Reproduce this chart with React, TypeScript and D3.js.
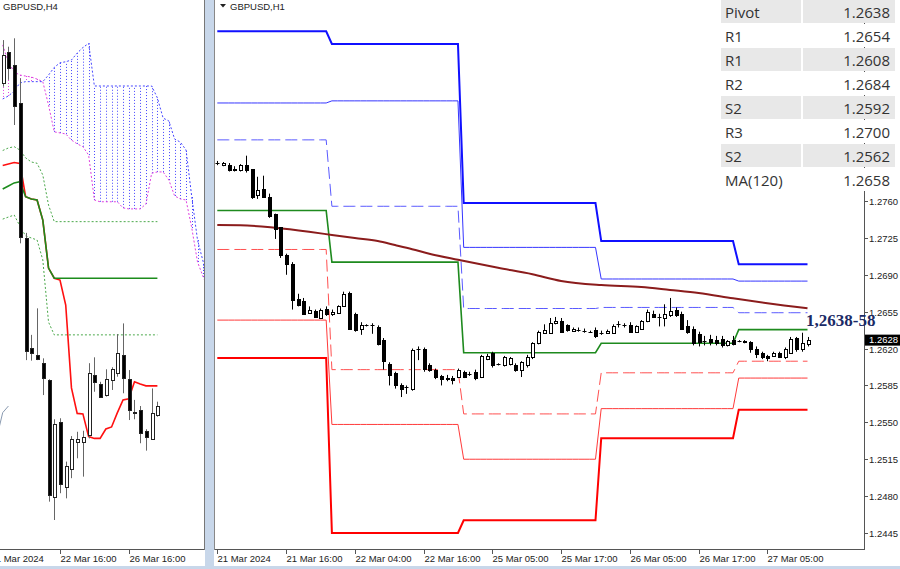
import React from "react";
import * as d3 from "d3";

// ================= RIGHT PANEL (GBPUSD, H1) =================
// [open, high, low, close]
const h1Candles: number[][] = [
  [1.2796, 1.2798, 1.2794, 1.2796], [1.2794, 1.2797, 1.2793, 1.2796], [1.2794, 1.2796, 1.2788, 1.2789],
  [1.279, 1.2793, 1.2788, 1.2789], [1.2789, 1.2795, 1.2788, 1.2794], [1.2794, 1.2803, 1.2787, 1.2789],
  [1.279, 1.279, 1.2762, 1.2764], [1.2766, 1.2783, 1.2762, 1.277], [1.2771, 1.2784, 1.2763, 1.2764],
  [1.2764, 1.2767, 1.2744, 1.2746], [1.2748, 1.2748, 1.2724, 1.2733], [1.2735, 1.2735, 1.2706, 1.2709],
  [1.2709, 1.271, 1.269, 1.27], [1.27, 1.2702, 1.2657, 1.2666], [1.2667, 1.2672, 1.266, 1.2661],
  [1.2665, 1.2668, 1.2652, 1.2653], [1.2654, 1.266, 1.2653, 1.2657], [1.2656, 1.2657, 1.2649, 1.265],
  [1.2649, 1.2658, 1.2648, 1.2657], [1.2658, 1.266, 1.2651, 1.2653], [1.2653, 1.2657, 1.2651, 1.2655],
  [1.2654, 1.2661, 1.2653, 1.266], [1.266, 1.2674, 1.266, 1.2672], [1.2673, 1.2674, 1.2638, 1.2639],
  [1.2653, 1.2654, 1.2636, 1.2638], [1.2639, 1.2645, 1.2633, 1.2642], [1.2642, 1.2643, 1.2641, 1.2642],
  [1.2642, 1.2644, 1.2634, 1.2642], [1.264, 1.2642, 1.2623, 1.2624], [1.2628, 1.263, 1.26, 1.2608],
  [1.2605, 1.2607, 1.2585, 1.2595], [1.2597, 1.2598, 1.2582, 1.2585], [1.2585, 1.2587, 1.2574, 1.2582],
  [1.2584, 1.2585, 1.2577, 1.2584], [1.2582, 1.262, 1.258, 1.2619], [1.262, 1.2622, 1.2609, 1.262],
  [1.262, 1.2621, 1.2598, 1.2601], [1.2604, 1.2606, 1.2598, 1.26], [1.26, 1.2601, 1.2591, 1.2593],
  [1.2594, 1.2595, 1.2585, 1.2591], [1.2592, 1.2595, 1.2589, 1.2591], [1.2592, 1.2594, 1.2586, 1.259],
  [1.2593, 1.2601, 1.2592, 1.26], [1.2598, 1.2599, 1.2592, 1.2593], [1.2596, 1.2598, 1.2594, 1.2596],
  [1.2598, 1.26, 1.259, 1.2592], [1.2593, 1.2614, 1.2592, 1.2613], [1.261, 1.2615, 1.2609, 1.2613],
  [1.2616, 1.2617, 1.2602, 1.2604], [1.2605, 1.2606, 1.2604, 1.2605], [1.2604, 1.2613, 1.2603, 1.2612],
  [1.2605, 1.2612, 1.2604, 1.2611], [1.2604, 1.2606, 1.2598, 1.26], [1.26, 1.2608, 1.2593, 1.2607],
  [1.2604, 1.2614, 1.2602, 1.2612], [1.2612, 1.2626, 1.261, 1.2625], [1.2625, 1.2637, 1.2624, 1.2636],
  [1.2635, 1.2643, 1.2634, 1.2638], [1.2635, 1.2649, 1.2634, 1.2644], [1.2644, 1.265, 1.2643, 1.2646],
  [1.2646, 1.2649, 1.2635, 1.2636], [1.2642, 1.2643, 1.2636, 1.2638], [1.2637, 1.264, 1.2636, 1.2639],
  [1.2638, 1.264, 1.2636, 1.2638], [1.2637, 1.2639, 1.2635, 1.2637], [1.2636, 1.2637, 1.2635, 1.2636],
  [1.2638, 1.264, 1.263, 1.2632], [1.2635, 1.2637, 1.2633, 1.2635], [1.2635, 1.2638, 1.2634, 1.2637],
  [1.2635, 1.2643, 1.2634, 1.2641], [1.2643, 1.2646, 1.264, 1.2643], [1.2642, 1.2644, 1.264, 1.2642],
  [1.2642, 1.2645, 1.2635, 1.2636], [1.2636, 1.2642, 1.2635, 1.2641], [1.2639, 1.2647, 1.2638, 1.2646],
  [1.2646, 1.2657, 1.2645, 1.2655], [1.2653, 1.2656, 1.2649, 1.265], [1.265, 1.2653, 1.2641, 1.265],
  [1.2649, 1.2662, 1.2641, 1.2653], [1.2652, 1.2668, 1.265, 1.2656], [1.2657, 1.2659, 1.265, 1.2652],
  [1.2653, 1.2655, 1.2638, 1.2639], [1.2641, 1.2647, 1.2634, 1.2636], [1.2639, 1.2641, 1.2623, 1.2625],
  [1.2634, 1.2636, 1.2622, 1.2626], [1.2627, 1.2632, 1.2623, 1.2627], [1.2629, 1.2633, 1.2623, 1.2626],
  [1.2628, 1.2632, 1.2623, 1.2625], [1.2629, 1.2632, 1.2621, 1.2623], [1.2623, 1.2628, 1.2622, 1.2627],
  [1.2628, 1.2632, 1.2623, 1.2624], [1.2627, 1.2628, 1.2626, 1.2627], [1.2627, 1.2628, 1.2625, 1.2626],
  [1.2626, 1.2627, 1.2616, 1.262], [1.262, 1.2622, 1.2611, 1.2615], [1.2616, 1.2617, 1.261, 1.2612],
  [1.2613, 1.2614, 1.2608, 1.2611], [1.2613, 1.2617, 1.2612, 1.2616], [1.2616, 1.2617, 1.2611, 1.2612],
  [1.2612, 1.2621, 1.261, 1.262], [1.2616, 1.2631, 1.2615, 1.2629], [1.263, 1.2631, 1.2617, 1.262],
  [1.262, 1.2635, 1.2617, 1.2625], [1.2624, 1.2631, 1.2622, 1.2628],
];

const h1TimeLabels = ["21 Mar 2024", "21 Mar 16:00", "22 Mar 04:00", "22 Mar 16:00", "25 Mar 05:00", "25 Mar 17:00", "26 Mar 05:00", "26 Mar 17:00", "27 Mar 05:00"];
const h1TimeIdx = [0, 12, 24, 36, 48, 60, 72, 84, 96];
const priceTicks = [1.276, 1.2725, 1.269, 1.2655, 1.262, 1.2585, 1.255, 1.2515, 1.248, 1.2445];

// daily pivot levels (one value per trading day)
const dayStart = [0, 20, 43, 67, 91];
const r3Levels = [1.2921, 1.2909, 1.2758, 1.2722, 1.27];
const r2Levels = [1.2853, 1.2855, 1.2716, 1.2686, 1.2684];
const r1Levels = [1.2818, 1.2755, 1.2658, 1.2659, 1.2654];
const pivotLevels = [1.2751, 1.2702, 1.2616, 1.2625, 1.2638];
const s1Levels = [1.2714, 1.26, 1.2558, 1.2597, 1.2608];
const s2Levels = [1.2647, 1.2548, 1.2515, 1.2563, 1.2592];
const s3Levels = [1.2611, 1.2445, 1.2457, 1.2535, 1.2562];

// MA(120)
const maIdx = [0, 4, 10, 16, 20, 24, 28, 31, 34, 37, 42, 49, 55, 60, 67, 74, 79, 84, 90, 96, 103];
const maVal = [1.27372, 1.2737, 1.27346, 1.27308, 1.27278, 1.27248, 1.2722, 1.27182, 1.27143, 1.271, 1.27042, 1.26966, 1.26905, 1.26842, 1.26802, 1.26784, 1.26756, 1.26727, 1.26677, 1.2663, 1.26582];

const tableLabels = ["Pivot", "R1", "R1", "R2", "S2", "R3", "S2", "MA(120)"];
const tableValues = ["1.2638", "1.2654", "1.2608", "1.2684", "1.2592", "1.2700", "1.2562", "1.2658"];
const currentPrice = 1.2628;
const annotation = "1,2638-58";

// ================= LEFT PANEL (GBPUSD, H4) =================
const h4Candles: number[][] = [
  [1.27462, 1.27631, 1.27448, 1.27573], [1.27585, 1.27605, 1.27475, 1.2752], [1.27533, 1.27638, 1.27298, 1.27373],
  [1.27383, 1.27481, 1.26834, 1.2686], [1.26854, 1.26875, 1.26376, 1.26413], [1.26422, 1.26475, 1.26374, 1.26405],
  [1.26396, 1.26579, 1.26376, 1.26379], [1.26364, 1.26383, 1.26239, 1.26305], [1.26298, 1.26301, 1.25821, 1.25847],
  [1.2584, 1.26144, 1.25749, 1.26125], [1.26135, 1.26148, 1.25854, 1.2589], [1.2588, 1.25978, 1.25834, 1.25961],
  [1.25948, 1.26078, 1.25913, 1.26065], [1.26056, 1.26095, 1.25991, 1.26065], [1.26056, 1.26099, 1.25919, 1.26076],
  [1.26082, 1.26364, 1.26069, 1.26327], [1.26318, 1.26387, 1.26252, 1.26291], [1.26282, 1.26291, 1.2623, 1.26233],
  [1.26239, 1.2634, 1.26233, 1.26301], [1.26298, 1.26348, 1.26259, 1.2634], [1.26327, 1.26478, 1.26311, 1.26405],
  [1.26396, 1.2652, 1.26246, 1.26305], [1.26301, 1.26337, 1.26141, 1.2618], [1.26174, 1.2622, 1.26144, 1.2617],
  [1.2618, 1.26196, 1.2605, 1.26089], [1.26099, 1.26105, 1.26021, 1.26076], [1.26065, 1.26265, 1.26063, 1.2617],
  [1.26161, 1.26213, 1.26154, 1.26196],
];
const tenkan = [1.27139, 1.27145, 1.27151, 1.27147, 1.27017, 1.27008, 1.27004, 1.26925, 1.26737, 1.26697, 1.2669, 1.26592, 1.26267, 1.26167, 1.26165, 1.26076, 1.26069, 1.26069, 1.26106, 1.26114, 1.26169, 1.2622, 1.26224, 1.26291, 1.26282, 1.26275, 1.26275, 1.26275];
const kijun = [1.27047, 1.27059, 1.27071, 1.27076, 1.27017, 1.27008, 1.27004, 1.26925, 1.26737, 1.26697, 1.26697, 1.26697, 1.26697, 1.26697, 1.26697, 1.26697, 1.26697, 1.26697, 1.26697, 1.26697, 1.26697, 1.26697, 1.26697, 1.26697, 1.26697, 1.26697, 1.26697, 1.26697];
const envUpper = [1.27198, 1.27208, 1.27213, 1.272, 1.27169, 1.27153, 1.27148, 1.27102, 1.26984, 1.26919, 1.26919, 1.26919, 1.26919, 1.26919, 1.26919, 1.26919, 1.26919, 1.26919, 1.26919, 1.26919, 1.26919, 1.26919, 1.26919, 1.26919, 1.26919, 1.26919, 1.26919, 1.26919];
const envLower = [1.26929, 1.26937, 1.26945, 1.26902, 1.26863, 1.26855, 1.26847, 1.26769, 1.26525, 1.26475, 1.26475, 1.26475, 1.26475, 1.26475, 1.26475, 1.26475, 1.26475, 1.26475, 1.26475, 1.26475, 1.26475, 1.26475, 1.26475, 1.26475, 1.26475, 1.26475, 1.26475, 1.26475];
const spanA = [1.27612, 1.27545, 1.27506, 1.27494, 1.2749, 1.27486, 1.27478, 1.27468, 1.27376, 1.27271, 1.27267, 1.27263, 1.27239, 1.27224, 1.27213, 1.2718, 1.27004, 1.26997, 1.26997, 1.26997, 1.26997, 1.26973, 1.26969, 1.26969, 1.26969, 1.26988, 1.27109, 1.27114, 1.27114, 1.27082, 1.2702, 1.27008, 1.27004, 1.26894, 1.26761, 1.26702, 1.26651];
const spanB = [1.274, 1.27412, 1.27431, 1.27463, 1.27468, 1.27468, 1.27468, 1.27468, 1.27494, 1.27524, 1.27542, 1.27546, 1.27553, 1.2758, 1.27602, 1.27618, 1.27451, 1.27451, 1.27451, 1.27451, 1.27451, 1.27451, 1.27451, 1.27451, 1.27451, 1.27451, 1.27451, 1.27404, 1.27325, 1.27314, 1.27243, 1.27231, 1.272, 1.27016, 1.26847, 1.26761, 1.26612];
const h4TimeLabels = ["21 Mar 2024", "22 Mar 16:00", "26 Mar 16:00"];
const h4TimeIdx = [-2.2, 10, 22];
const chikouShift = 26;

// ================= helpers =================
const AXIS_FONT = "'Liberation Sans', Arial, sans-serif";

function perBar(levels: number[], n: number) {
  const out: number[] = [];
  for (let i = 0; i < n; i++) {
    let k = 0;
    for (let d = 0; d < dayStart.length; d++) if (dayStart[d] <= i) k = d;
    out.push(levels[k]);
  }
  return out;
}

function Candles({ data, x, y, wick, outline, offset = 0 }: any) {
  return (
    <g>
      {data.map((d: number[], i: number) => {
        const [o, h, l, c] = d;
        const cx = Math.round(x(i + offset)) + 0.5;
        const yo = Math.round(y(o));
        const yc = Math.round(y(c));
        const top = Math.min(yo, yc);
        const bot = Math.max(yo, yc);
        const bull = c > o;
        const doji = bot - top < 1;
        return (
          <g key={i}>
            <line x1={cx} x2={cx} y1={y(h)} y2={y(l)} stroke={wick} strokeWidth={1} />
            {doji ? (
              <line x1={cx - 2} x2={cx + 2} y1={top + 0.5} y2={top + 0.5} stroke="#000" strokeWidth={1} />
            ) : (
              <rect x={cx - 1} y={top + 0.5} width={3} height={bot - top} fill={bull ? "#fff" : "#000"} stroke={outline} strokeWidth={1} />
            )}
          </g>
        );
      })}
    </g>
  );
}

export default function App() {
  // right panel scales
  const nR = h1Candles.length;
  const xR = d3.scaleLinear().domain([0, 103]).range([217.3, 807.5]);
  const yR = d3.scaleLinear().domain([1.242983, 1.29507]).range([549, 0]);
  // left panel scales
  const xL = d3.scaleLinear().domain([0, 27]).range([2.7, 157.4]);
  const yL = d3.scaleLinear().domain([1.256353, 1.277882]).range([549, 0]);

  const lineR = d3.line<number>().x((_, i) => xR(i)).y((v) => yR(v));
  const levelPath = (lv: number[]) => lineR(perBar(lv, nR)) || "";
  const maPath =
    d3
      .line<number>()
      .x((_, i) => xR(maIdx[i]))
      .y((v) => yR(v))
      .curve(d3.curveMonotoneX)(maVal) || "";

  const lineL = d3.line<number>().x((_, i) => xL(i)).y((v) => yL(v));
  const chikouPath =
    d3
      .line<number[]>()
      .x((_, i) => xL(i - chikouShift))
      .y((d) => yL(d[3]))(h4Candles) || "";

  const cloudLines = spanA.map((a, j) => {
    const ya = yL(a);
    const yb = yL(spanB[j]);
    const col = yb < ya ? "#4646ff" : "#e040e0";
    const cx = Math.round(xL(j)) + 0.5;
    return <line key={j} x1={cx} x2={cx} y1={ya} y2={yb} stroke={col} strokeWidth={1} strokeDasharray="1,2" />;
  });

  return (
    <svg width={900} height={569} style={{ position: "absolute", left: 0, top: 0, background: "#fff" }}>
      <defs>
        <clipPath id="clipL">
          <rect x={0} y={0} width={205} height={549} />
        </clipPath>
        <clipPath id="clipR">
          <rect x={215} y={0} width={649} height={549} />
        </clipPath>
      </defs>
      <rect x={0} y={0} width={900} height={569} fill="#fff" />

      {/* ---------- LEFT PANEL ---------- */}
      <g clipPath="url(#clipL)">
        {cloudLines}
        <path d={lineL(spanA) || ""} fill="none" stroke="#e040e0" strokeWidth={1} strokeDasharray="2,2" />
        <path d={lineL(spanB) || ""} fill="none" stroke="#4646ff" strokeWidth={1} strokeDasharray="2,2" />
        <path d={lineL(envUpper) || ""} fill="none" stroke="#4aa84a" strokeWidth={1} strokeDasharray="2,2" />
        <path d={lineL(envLower) || ""} fill="none" stroke="#4aa84a" strokeWidth={1} strokeDasharray="2,2" />
        <path d={lineL(tenkan) || ""} fill="none" stroke="#ff1010" strokeWidth={1.6} />
        <path d={lineL(kijun) || ""} fill="none" stroke="#1c8c1c" strokeWidth={1.6} />
        <path d={chikouPath} fill="none" stroke="#8a9ab0" strokeWidth={1} />
        <Candles data={h4Candles} x={xL} y={yL} wick="#666" outline="#222" />
      </g>
      <text x={3} y={10} fontFamily={AXIS_FONT} fontSize={9.5} fill="#222">GBPUSD,H4</text>
      <line x1={0} x2={205} y1={549.5} y2={549.5} stroke="#555" />
      <line x1={204.5} x2={204.5} y1={0} y2={550} stroke="#777" />
      {h4TimeIdx.map((ix, k) => {
        const tx = Math.round(xL(ix)) + 0.5;
        return (
          <g key={k}>
            <line x1={tx} x2={tx} y1={549} y2={554} stroke="#555" />
            <text x={tx} y={561.5} fontFamily={AXIS_FONT} fontSize={9.5} fill="#222">{h4TimeLabels[k]}</text>
          </g>
        );
      })}

      {/* separator */}
      <rect x={205} y={0} width={9} height={569} fill="#c8d7ea" />
      <line x1={214.5} x2={214.5} y1={0} y2={550} stroke="#888" />

      {/* ---------- RIGHT PANEL ---------- */}
      <g clipPath="url(#clipR)">
        <path d={levelPath(r3Levels)} fill="none" stroke="#1010ff" strokeWidth={2} />
        <path d={levelPath(r2Levels)} fill="none" stroke="#3535ff" strokeWidth={1} />
        <path d={levelPath(r1Levels)} fill="none" stroke="#5a5aff" strokeWidth={1} strokeDasharray="12,5" />
        <path d={levelPath(s1Levels)} fill="none" stroke="#ff5050" strokeWidth={1} strokeDasharray="12,5" />
        <path d={levelPath(s2Levels)} fill="none" stroke="#ff3a3a" strokeWidth={1} />
        <path d={levelPath(s3Levels)} fill="none" stroke="#ff0000" strokeWidth={2} />
        <path d={levelPath(pivotLevels)} fill="none" stroke="#1e8a1e" strokeWidth={1.6} />
        <path d={maPath} fill="none" stroke="#8b1c1c" strokeWidth={2} />
        <Candles data={h1Candles} x={xR} y={yR} wick="#000" outline="#000" />
      </g>
      <path d="M220,4 L226,4 L223,7.5 Z" fill="#222" />
      <text x={230} y={10} fontFamily={AXIS_FONT} fontSize={9.5} fill="#222">GBPUSD,H1</text>

      {/* axes */}
      <line x1={215} x2={864} y1={549.5} y2={549.5} stroke="#555" />
      <line x1={864.5} x2={864.5} y1={0} y2={550} stroke="#555" />
      {priceTicks.map((p, k) => {
        const ty = Math.round(yR(p)) + 0.5;
        return (
          <g key={k}>
            <line x1={864} x2={868} y1={ty} y2={ty} stroke="#555" />
            <text x={869} y={ty + 3.3} fontFamily={AXIS_FONT} fontSize={9.5} fill="#222">{p.toFixed(4)}</text>
          </g>
        );
      })}
      <rect x={865} y={yR(currentPrice) - 5.5} width={35} height={11} fill="#000" />
      <text x={869} y={yR(currentPrice) + 3.3} fontFamily={AXIS_FONT} fontSize={9.5} fill="#fff">{currentPrice.toFixed(4)}</text>
      {h1TimeIdx.map((ix, k) => {
        const tx = Math.round(xR(ix)) + 0.5;
        return (
          <g key={k}>
            <line x1={tx} x2={tx} y1={549} y2={554} stroke="#555" />
            <text x={tx} y={561.5} fontFamily={AXIS_FONT} fontSize={9.5} fill="#222">{h1TimeLabels[k]}</text>
          </g>
        );
      })}

      {/* annotation */}
      <text x={806} y={325.5} fontFamily="'Liberation Serif', 'Times New Roman', serif" fontWeight="bold" fontSize={17} fill="#1b2a66">{annotation}</text>

      {/* table */}
      <g fontFamily="'Open Sans', 'Noto Sans', sans-serif" fontSize={15} fill="#333">
        {tableLabels.map((lab, i) => (
          <g key={i}>
            <rect x={721} y={i * 24} width={80} height={23} fill={i % 2 === 0 ? "#e8e8e8" : "#fff"} />
            <rect x={803} y={i * 24} width={92} height={23} fill={i % 2 === 0 ? "#e8e8e8" : "#fff"} />
            <text x={725} y={i * 24 + 18}>{lab}</text>
            <text x={890} y={i * 24 + 18} textAnchor="end">{tableValues[i]}</text>
          </g>
        ))}
      </g>

      {/* window frame bottom */}
      <rect x={0} y={566} width={900} height={3} fill="#c8d7ea" />
    </svg>
  );
}
